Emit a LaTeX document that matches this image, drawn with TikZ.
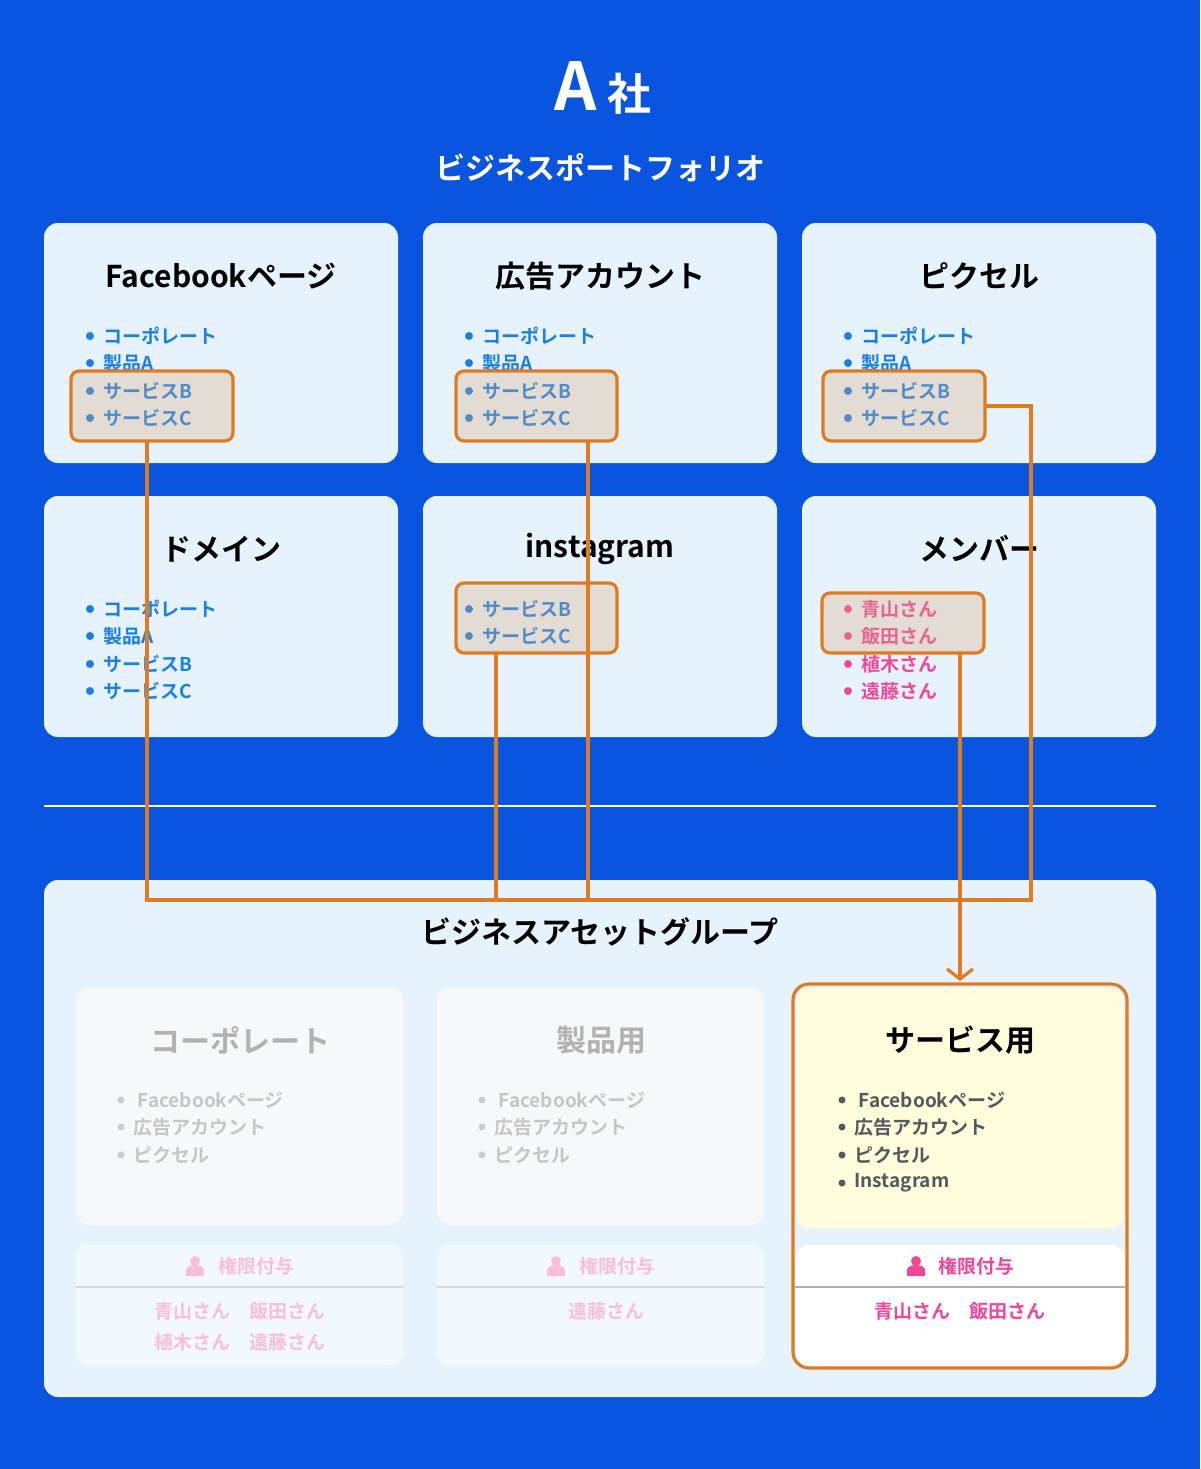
\documentclass[tikz,border=0pt]{standalone}
\usepackage{fontspec}
\setmainfont{Noto Sans CJK JP}[BoldFont={Noto Sans CJK JP Bold}]
\usetikzlibrary{arrows.meta}
\definecolor{bg}{HTML}{0A55E0}
\definecolor{card}{HTML}{E6F3FD}
\definecolor{org}{HTML}{E07B20}
\definecolor{itm}{HTML}{1A7FE8}
\definecolor{pnk}{HTML}{F0479A}
\definecolor{gry}{HTML}{555A60}
\definecolor{hlf}{HTML}{D9A878}
\tikzset{
 cardbox/.style={fill=card,rounded corners=14pt},
 ctitle/.style={font=\fontsize{30}{30}\selectfont\bfseries,text=black},
 itemtx/.style={anchor=west,font=\fontsize{19}{19}\selectfont\bfseries,text=itm},
 memtx/.style={anchor=west,font=\fontsize{19}{19}\selectfont\bfseries,text=pnk},
 hl/.style={draw=org,line width=3.2pt,fill=hlf,fill opacity=0.3,draw opacity=1,rounded corners=8pt},
 link/.style={draw=org,line width=3.2pt},
 subtx/.style={anchor=west,font=\fontsize{19}{19}\selectfont\bfseries,text=gry},
}
\begin{document}
\begin{tikzpicture}[x=1pt,y=-1pt]
\useasboundingbox (0,0) rectangle (1200,1469);
\fill[bg] (0,0) rectangle (1200,1469);
\node[text=white,font=\fontsize{66}{66}\selectfont\bfseries] (ttl) at (603,88) {A\,\fontsize{44}{44}\selectfont 社};
\node[text=white,font=\fontsize{30}{30}\selectfont\bfseries] (sub) at (600,168) {ビジネスポートフォリオ};
% cards
\foreach \x in {44,423,802}{
 \fill[cardbox] (\x,223) rectangle ++(354,240);
 \fill[cardbox] (\x,496) rectangle ++(354,241);
}
\node[ctitle] (t1) at (221,276) {Facebookページ};
\node[ctitle] (t2) at (600,276) {広告アカウント};
\node[ctitle] (t3) at (979,276) {ピクセル};
\node[ctitle] (t4) at (221,549) {ドメイン};
\node[ctitle] (t5) at (600,549) {instagram};
\node[ctitle] (t6) at (979,549) {メンバー};
\foreach \x in {90,469,848}{
 \foreach \y/\t in {336/コーポレート,363/製品A,391/サービスB,418/サービスC}{
  \fill[itm] (\x,\y) circle (4pt);
  \node[itemtx] at (\x+10,\y) {\t};
 }
}
\foreach \y/\t in {609/コーポレート,636/製品A,664/サービスB,691/サービスC}{
  \fill[itm] (90,\y) circle (4pt); \node[itemtx] at (100,\y) {\t};}
\foreach \y/\t in {609/サービスB,636/サービスC}{
  \fill[itm] (469,\y) circle (4pt); \node[itemtx] at (479,\y) {\t};}
\foreach \y/\t in {609/青山さん,636/飯田さん,664/植木さん,691/遠藤さん}{
  \fill[pnk] (848,\y) circle (4pt); \node[memtx] at (858,\y) {\t};}
% highlight boxes
\path[hl] (71,371) rectangle (233,441);
\path[hl] (456,371) rectangle (617,441);
\path[hl] (823,371) rectangle (985,441);
\path[hl] (456,583) rectangle (617,653);
\path[hl] (822,593) rectangle (984,653);
\coordinate (h1b) at (147,441);
\coordinate (h2b) at (588,441);
\coordinate (h3r) at (985,406);
\coordinate (h4b) at (496,653);
\coordinate (h5b) at (960,653);
% separator
\draw[white,line width=2pt] (44,806) -- (1156,806);
% bottom panel
\fill[cardbox] (44,880) rectangle (1156,1397);
\node[font=\fontsize{30}{30}\selectfont\bfseries] (grp) at (600,932) {ビジネスアセットグループ};
% faded boxes
\foreach \x/\tt in {76/コーポレート,437/製品用}{
 \fill[fill=card!65!gray!14,rounded corners=12pt] (\x,988) rectangle ++(327,237);
 \fill[fill=card!50!white,rounded corners=12pt] (\x,1245) rectangle ++(327,120);
 \draw[gray!30,line width=1.5pt] (\x,1287) -- ++(327,0);
 \node[font=\fontsize{30}{30}\selectfont\bfseries,text=gray!60] at (\x+164,1040) {\tt};
 \foreach \y/\t in {1100/\ Facebookページ,1127/広告アカウント,1155/ピクセル}{
  \fill[gray!40] (\x+45,\y) circle (3.5pt);
  \node[subtx,text=gray!45] at (\x+54,\y) {\t};}
 \fill[pnk!35] (\x+119,1261) circle (5pt);
 \fill[pnk!35] (\x+110,1276) rectangle (\x+128,1270) arc (0:180:9pt and 5pt);
 \node[font=\fontsize{19}{19}\selectfont\bfseries,text=pnk!35] at (\x+180,1266) {権限付与};
}
\node[font=\fontsize{19}{19}\selectfont\bfseries,text=pnk!35] at (240,1311) {青山さん\quad 飯田さん};
\node[font=\fontsize{19}{19}\selectfont\bfseries,text=pnk!35] at (240,1342) {植木さん\quad 遠藤さん};
\node[font=\fontsize{19}{19}\selectfont\bfseries,text=pnk!35] at (606,1311) {遠藤さん};
% service box
\fill[white,rounded corners=14pt] (795,1245) rectangle (1125,1366);
\fill[yellow!14,rounded corners=12pt] (797,988) rectangle (1123,1228);
\draw[gray!60,line width=1.5pt] (795,1287) -- (1125,1287);
\draw[org,line width=3.2pt,rounded corners=16pt] (793,984) rectangle (1127,1368);
\node[font=\fontsize{30}{30}\selectfont\bfseries] (svc) at (960,1040) {サービス用};
\coordinate (svctop) at (960,981);
\foreach \y/\t in {1100/\ Facebookページ,1127/広告アカウント,1155/ピクセル,1183/Instagram}{
  \fill[gry] (842,\y) circle (3.5pt);
  \node[subtx] at (851,\y) {\t};}
\fill[pnk] (916,1261) circle (5pt);
\fill[pnk] (907,1276) rectangle (925,1270) arc (0:180:9pt and 5pt);
\node[font=\fontsize{19}{19}\selectfont\bfseries,text=pnk] at (976,1266) {権限付与};
\node[font=\fontsize{19}{19}\selectfont\bfseries,text=pnk] at (960,1311) {青山さん\quad 飯田さん};
% connectors
\draw[link] (h1b) -- (147,900) -- (1031,900) -- (1031,406) -- (h3r);
\draw[link] (h2b) -- (588,900);
\draw[link] (h4b) -- (496,900);
\draw[link,-{Straight Barb[length=10pt,width=26pt,line width=3.2pt]}] (h5b) -- (svctop);
\end{tikzpicture}
\end{document}
